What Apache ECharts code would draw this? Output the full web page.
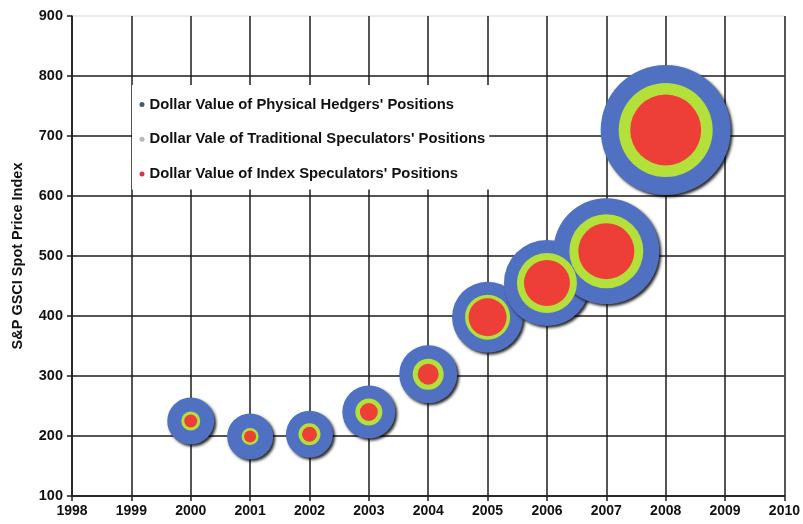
<!DOCTYPE html>
<html>
<head>
<meta charset="utf-8">
<script src="https://cdn.jsdelivr.net/npm/echarts@6/dist/echarts.min.js"></script>
<style>
html,body{margin:0;padding:0;background:#fff;}
#chart{width:803px;height:524px;}
</style>
</head>
<body>
<div id="chart"></div>
<script>
// Years (x) and S&P GSCI spot price index (y)
var years = [2000, 2001, 2002, 2003, 2004, 2005, 2006, 2007, 2008];
var priceIndex = [225, 199, 203, 240, 303, 398, 455, 508, 710];
// Relative bubble sizes (dollar value of positions, in chart units)
var hedgers = [47, 46, 47, 53, 58, 71, 86, 106, 130];
var traditional = [19, 17, 22, 27, 31, 45, 60, 74, 94];
var indexSpec = [13, 12, 15, 18, 21, 38, 46, 56, 71];

var seriesNames = [
  "Dollar Value of Physical Hedgers' Positions",
  "Dollar Vale of Traditional Speculators' Positions",
  "Dollar Value of Index Speculators' Positions"
];
var yTicks = [100, 200, 300, 400, 500, 600, 700, 800, 900];
var xTicks = [1998, 1999, 2000, 2001, 2002, 2003, 2004, 2005, 2006, 2007, 2008, 2009, 2010];

function build(sizes) {
  return years.map(function (y, i) { return [y, priceIndex[i], sizes[i]]; });
}

var chart = echarts.init(document.getElementById('chart'), null, {renderer: 'canvas'});
var font = 'Liberation Sans, Arial, sans-serif';
var lineColor = '#1c1c1c';
var yLineColors = yTicks.map(function (t, i) { return i === yTicks.length - 1 ? '#e4e4e4' : lineColor; });

chart.setOption({
  backgroundColor: '#ffffff',
  animation: false,
  grid: {left: 72, right: 17, top: 16, bottom: 28},
  legend: {
    left: 132, top: 85,
    orient: 'vertical',
    backgroundColor: '#ffffff',
    padding: [12, 4, 8, 7.5],
    itemGap: 19.7,
    icon: 'circle',
    itemWidth: 5, itemHeight: 5,
    textStyle: {fontFamily: font, fontWeight: 'bold', fontSize: 14.8, color: '#111'},
    data: [
      {name: seriesNames[0], itemStyle: {color: '#4a5878'}},
      {name: seriesNames[1], itemStyle: {color: '#b8b8b8'}},
      {name: seriesNames[2], itemStyle: {color: '#e0304a'}}
    ]
  },
  xAxis: {
    type: 'value', min: xTicks[0], max: xTicks[xTicks.length - 1], interval: 1,
    axisLine: {lineStyle: {color: lineColor, width: 1.5}},
    axisTick: {show: true, length: 5, lineStyle: {color: lineColor, width: 1.5}},
    splitLine: {show: true, lineStyle: {color: lineColor, width: 1.5}},
    axisLabel: {margin: 8, fontFamily: font, fontWeight: 'bold', fontSize: 14, color: '#111',
      formatter: function (v) { return String(v); }}
  },
  yAxis: {
    type: 'value', min: yTicks[0], max: yTicks[yTicks.length - 1], interval: 100,
    name: 'S&P GSCI Spot Price Index', nameLocation: 'middle', nameGap: 47,
    nameTextStyle: {fontFamily: font, fontWeight: 'bold', fontSize: 14.5, color: '#111'},
    axisLine: {show: true, lineStyle: {color: lineColor, width: 1.5}},
    axisTick: {show: true, length: 5, lineStyle: {color: lineColor, width: 1.5}},
    splitLine: {show: true, lineStyle: {color: yLineColors, width: 1.5}},
    axisLabel: {margin: 9, fontFamily: font, fontWeight: 'bold', fontSize: 14.5, color: '#111'}
  },
  series: [
    {
      name: seriesNames[0], type: 'scatter', data: build(hedgers),
      symbolSize: function (d) { return d[2]; },
      itemStyle: {color: '#5071c2', opacity: 1, shadowColor: 'rgba(0,0,0,0.85)', shadowBlur: 3, shadowOffsetX: 2, shadowOffsetY: 2},
      z: 2
    },
    {
      name: seriesNames[1], type: 'scatter', data: build(traditional),
      symbolSize: function (d) { return d[2]; },
      itemStyle: {color: '#b4e03a', opacity: 1},
      z: 3
    },
    {
      name: seriesNames[2], type: 'scatter', data: build(indexSpec),
      symbolSize: function (d) { return d[2]; },
      itemStyle: {color: '#ee3e38', opacity: 1},
      z: 4
    }
  ]
});
</script>
</body>
</html>
